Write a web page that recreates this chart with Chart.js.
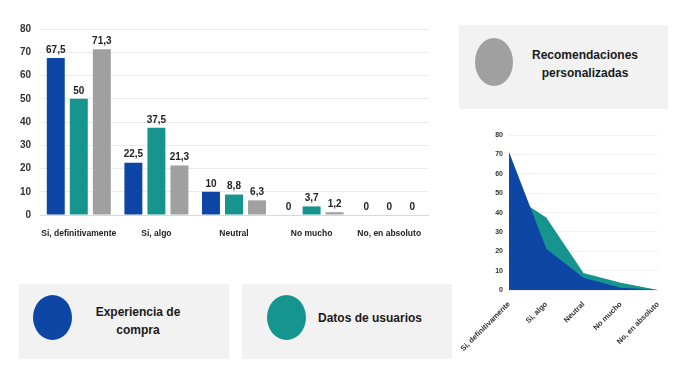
<!DOCTYPE html>
<html>
<head>
<meta charset="utf-8">
<script src="https://cdn.jsdelivr.net/npm/chart.js@4.4.1/dist/chart.umd.min.js"></script>
<style>
  html, body { margin: 0; padding: 0; background: #fff; }
  body { width: 692px; height: 388px; position: relative; overflow: hidden;
         font-family: "Liberation Sans", Arial, sans-serif; }
  .box { position: absolute; background: #f2f2f2; }
  .dot { position: absolute; border-radius: 50%; }
  .txt { position: absolute; text-align: center; font-weight: bold; font-size: 12px;
         line-height: 18px; color: #1a1a1a; transform: translateY(-50%); }
  #barWrap { position: absolute; left: 0; top: 0; width: 440px; height: 240px; }
  #areaWrap { position: absolute; left: 445px; top: 125px; width: 247px; height: 263px; }
</style>
</head>
<body>
<div id="barWrap"><canvas id="barChart"></canvas></div>
<div id="areaWrap"><canvas id="areaChart"></canvas></div>

<div class="box" style="left:459px;top:25px;width:209px;height:84px;">
  <div class="dot" style="left:16px;top:13px;width:38px;height:48px;background:#a0a0a0;"></div>
  <div class="txt" style="left:56px;top:39px;width:140px;">Recomendaciones<br>personalizadas</div>
</div>
<div class="box" style="left:19px;top:284px;width:210px;height:75px;">
  <div class="dot" style="left:14px;top:11px;width:39px;height:45px;background:#0e46a6;"></div>
  <div class="txt" style="left:49px;top:37px;width:140px;">Experiencia de<br>compra</div>
</div>
<div class="box" style="left:242px;top:284px;width:210px;height:75px;">
  <div class="dot" style="left:25px;top:11px;width:39px;height:45px;background:#16958f;"></div>
  <div class="txt" style="left:58px;top:34px;width:140px;">Datos de usuarios</div>
</div>

<script>
Chart.defaults.font.family = '"Liberation Sans", Arial, sans-serif';
Chart.defaults.color = '#333';

// data
const categories = ['Si, definitivamente', 'Si, algo', 'Neutral', 'No mucho', 'No, en absoluto'];
const experiencia = [67.5, 22.5, 10, 0, 0];
const datosUsuarios = [50, 37.5, 8.8, 3.7, 0];
const recomendaciones = [71.3, 21.3, 6.3, 1.2, 0];
const yMin = 0, yMax = 80, yStep = 10;

const blue = 'rgb(14, 70, 166)';
const teal = 'rgb(22, 149, 143)';
const gray = 'rgb(160, 160, 160)';

// value labels on top of the bars
const valueLabels = {
    id: 'valueLabels',
    afterDatasetsDraw(chart) {
        const ctx = chart.ctx;
        ctx.save();
        ctx.font = 'bold 10px "Liberation Sans", Arial, sans-serif';
        ctx.fillStyle = '#222';
        ctx.textAlign = 'center';
        ctx.textBaseline = 'bottom';
        chart.data.datasets.forEach((ds, i) => {
            chart.getDatasetMeta(i).data.forEach((bar, j) => {
                ctx.fillText(String(ds.data[j]).replace('.', ','), bar.x, bar.y - 3);
            });
        });
        ctx.restore();
    }
};

new Chart(document.getElementById('barChart'), {
    type: 'bar',
    data: {
        labels: categories,
        datasets: [
            { label: 'Experiencia de compra', data: experiencia, backgroundColor: blue },
            { label: 'Datos de usuarios', data: datosUsuarios, backgroundColor: teal },
            { label: 'Recomendaciones personalizadas', data: recomendaciones, backgroundColor: gray }
        ]
    },
    options: {
        responsive: true,
        maintainAspectRatio: false,
        animation: false,
        categoryPercentage: 0.89,
        barPercentage: 0.78,
        layout: { padding: { top: 29, right: 12, left: 0, bottom: 0 } },
        plugins: { legend: { display: false }, tooltip: { enabled: false } },
        scales: {
            x: {
                grid: { display: false },
                border: { color: '#d9d9d9' },
                ticks: { color: '#222', padding: 6, autoSkip: false, maxRotation: 0,
                         font: { size: 8.5, weight: 'bold' } },
                afterFit: (axis) => { axis.height = 25; }
            },
            y: {
                min: yMin, max: yMax,
                ticks: { stepSize: yStep, color: '#333', font: { size: 10, weight: 'bold' }, padding: 9 },
                grid: { color: '#ebebeb', drawTicks: false },
                border: { display: false },
                afterFit: (axis) => { axis.width = 40; }
            }
        }
    },
    plugins: [valueLabels]
});

new Chart(document.getElementById('areaChart'), {
    type: 'line',
    data: {
        labels: categories,
        datasets: [
            { label: 'Recomendaciones personalizadas', data: recomendaciones, backgroundColor: blue,
              fill: 'origin', borderWidth: 0, pointRadius: 0, tension: 0 },
            { label: 'Datos de usuarios', data: datosUsuarios, backgroundColor: teal,
              fill: 'origin', borderWidth: 0, pointRadius: 0, tension: 0 }
        ]
    },
    options: {
        responsive: true,
        maintainAspectRatio: false,
        animation: false,
        layout: { padding: { top: 10, right: 34, left: 0, bottom: 0 } },
        plugins: { legend: { display: false }, tooltip: { enabled: false } },
        scales: {
            x: {
                grid: { display: false },
                border: { display: false },
                ticks: { color: '#333', font: { size: 7.5, weight: 'bold' }, padding: 2,
                         autoSkip: false, minRotation: 45, maxRotation: 45 },
                afterFit: (axis) => { axis.height = 98; axis.paddingLeft = 0; axis.paddingRight = 0; }
            },
            y: {
                min: yMin, max: yMax,
                ticks: { stepSize: yStep, color: '#333', font: { size: 7, weight: 'bold' }, padding: 6 },
                grid: { color: '#f2f2f2', drawTicks: false },
                border: { display: false },
                afterFit: (axis) => { axis.width = 64; }
            }
        }
    }
});
</script>
</body>
</html>
